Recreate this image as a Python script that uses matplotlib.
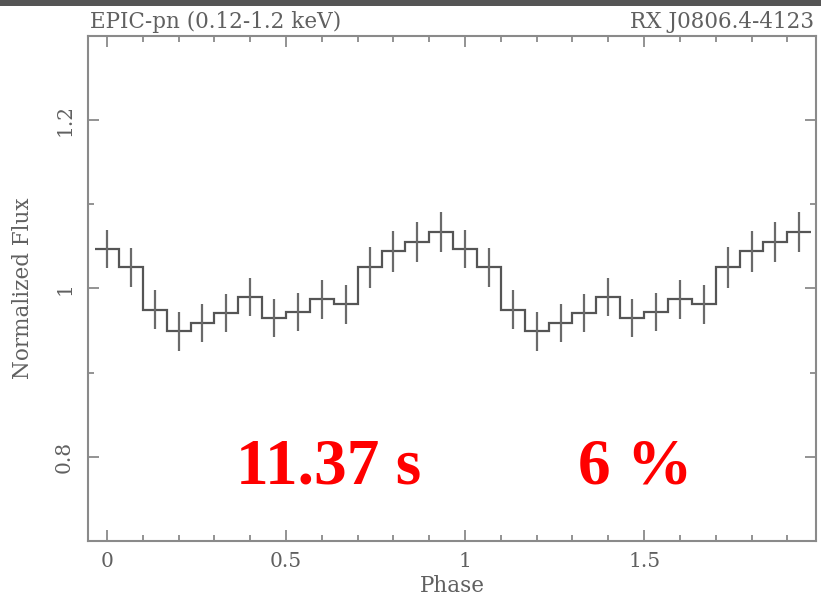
import numpy as np
import matplotlib
matplotlib.use("Agg")
import matplotlib.pyplot as plt
from matplotlib.ticker import MultipleLocator
from matplotlib.patches import Rectangle

# pulse profile, one cycle of 15 phase bins (shown twice)
n_bins = 15
flux = [1.047, 1.025, 0.975, 0.949, 0.959, 0.971, 0.990, 0.965,
        0.972, 0.987, 0.981, 1.025, 1.044, 1.055, 1.067]
flux_err = [0.023, 0.023, 0.023, 0.023, 0.023, 0.023, 0.023, 0.023,
            0.023, 0.023, 0.023, 0.024, 0.024, 0.024, 0.024]

x_ticks = [0, 0.5, 1, 1.5]
x_ticklabels = ["0", "0.5", "1", "1.5"]
y_ticks = [0.8, 1.0, 1.2]
y_ticklabels = ["0.8", "1", "1.2"]

title_left = "EPIC-pn (0.12-1.2 keV)"
title_right = "RX J0806.4-4123"
period_text = "11.37 s"
pulsed_text = "6 %"

# two cycles
phase = np.arange(2 * n_bins) / n_bins
flux2 = np.concatenate([flux, flux])
err2 = np.concatenate([flux_err, flux_err])
edges = np.append(phase - 0.5 / n_bins, phase[-1] + 0.5 / n_bins)

W, H = 821, 598
fig = plt.figure(figsize=(W / 100, H / 100), dpi=100)
ax = fig.add_axes([88 / W, 57 / H, 728 / W, 505 / H])

line_col = "#555555"
axis_col = "#8a8a8a"
text_col = "#606060"
font = "DejaVu Serif"
fs = 15.5

ax.stairs(flux2, edges, baseline=None, color=line_col, lw=1.6)
ax.errorbar(phase, flux2, yerr=err2, fmt="none", ecolor="#6a6a6a",
            elinewidth=1.6, capsize=0)

ax.set_xlim(-0.053, 1.98)
ax.set_ylim(0.7, 1.3)

ax.set_xticks(x_ticks)
ax.set_xticklabels(x_ticklabels, family=font, fontsize=14.5, color=text_col)
ax.set_yticks(y_ticks)
ax.set_yticklabels(y_ticklabels, family=font, fontsize=14.5, color=text_col,
                   rotation=90, va="center")
ax.xaxis.set_minor_locator(MultipleLocator(0.1))
ax.yaxis.set_minor_locator(MultipleLocator(0.1))
ax.tick_params(which="both", direction="in", top=True, right=True,
               color=axis_col, width=1.3)
ax.tick_params(which="major", length=8)
ax.tick_params(which="minor", length=4.5)
ax.tick_params(axis="x", pad=8)
ax.tick_params(axis="y", pad=10)
for s in ax.spines.values():
    s.set_color(axis_col)
    s.set_linewidth(1.5)

ax.set_xlabel("Phase", family=font, fontsize=fs, color=text_col, labelpad=3)
ax.set_ylabel("Normalized Flux", family=font, fontsize=fs, color=text_col,
              labelpad=15)

fig.text(90 / W, 1 - 28 / H, title_left, family=font, fontsize=fs,
         color=text_col, ha="left", va="baseline")
fig.text(814 / W, 1 - 28 / H, title_right, family=font, fontsize=fs,
         color=text_col, ha="right", va="baseline")

ax.text(0.62, 0.768, period_text, family="Liberation Serif", weight="bold",
        fontsize=47, color="red", ha="center", va="baseline")
ax.text(1.476, 0.768, pulsed_text, family="Liberation Serif", weight="bold",
        fontsize=47, color="red", ha="center", va="baseline")

# dark strip along the top edge
fig.add_artist(Rectangle((0, 1 - 6 / H), 1, 6 / H, transform=fig.transFigure,
                         color="#555555", lw=0))

fig.savefig("out.png", dpi=100)
